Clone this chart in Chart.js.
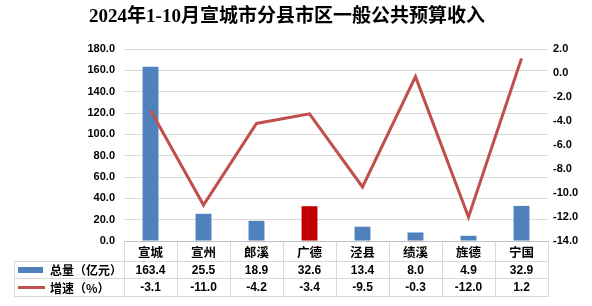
<!DOCTYPE html>
<html><head><meta charset="utf-8">
<script src="https://cdn.jsdelivr.net/npm/chart.js@4"></script>
<style>html,body{margin:0;padding:0;background:#fff}#wrap{width:592px;height:306px}</style>
</head><body><div id="wrap"><canvas id="c" width="592" height="306"></canvas></div>
<script>
const titleText = '2024年1-10月宣城市分县市区一般公共预算收入';
const categories = ['宣城','宣州','郎溪','广德','泾县','绩溪','旌德','宁国'];
const totalValues = [163.4, 25.5, 18.9, 32.6, 13.4, 8.0, 4.9, 32.9];
const growthValues = [-3.1, -11.0, -4.2, -3.4, -9.5, -0.3, -12.0, 1.2];
const seriesNames = ['总量（亿元）', '增速（%）'];
const highlightCategory = '广德';

const BLUE = '#4F81BD', RED_BAR = '#C00000', LINE = '#C0504D', GRID = '#D9D9D9';
const CJK = '"Noto Sans CJK SC", "Liberation Sans", sans-serif';
const NUM = '"Liberation Sans", Arial, sans-serif';

const tablePlugin = {
  id: 'tableAndTitle',
  beforeDraw(chart) {
    const ctx = chart.ctx;
    ctx.save();
    ctx.fillStyle = '#fff';
    ctx.fillRect(0, 0, chart.width, chart.height);
    ctx.restore();
  },
  afterDraw(chart) {
    const ctx = chart.ctx, xs = chart.scales.x, a = chart.chartArea;
    const n = categories.length, w = (a.right - a.left) / n;
    const top = Math.round(a.bottom), r1 = top + 20, r2 = r1 + 17, r3 = r2 + 18;
    const tl = 14;
    ctx.save();
    // title
    ctx.fillStyle = '#000';
    ctx.textAlign = 'center'; ctx.textBaseline = 'middle';
    ctx.font = 'bold 19px "Liberation Serif", "Noto Sans CJK SC", serif';
    ctx.fillText(titleText, 287, 17);
    // grid lines of the table
    ctx.strokeStyle = GRID; ctx.lineWidth = 1;
    ctx.beginPath();
    [r1, r2, r3].forEach(y => { ctx.moveTo(tl, y + 0.5); ctx.lineTo(a.right, y + 0.5); });
    ctx.moveTo(tl + 0.5, r1); ctx.lineTo(tl + 0.5, r3 + 1);
    for (let i = 0; i <= n; i++) {
      const x = Math.round(a.left + i * w) + 0.5;
      ctx.moveTo(x, top); ctx.lineTo(x, r3 + 1);
    }
    ctx.stroke();
    // header names
    ctx.fillStyle = '#000';
    ctx.font = 'bold 12.5px ' + CJK;
    categories.forEach((c, i) => ctx.fillText(c, xs.getPixelForValue(i), (top + r1) / 2 + 1));
    ctx.font = 'bold 12px ' + NUM;
    totalValues.forEach((v, i) => ctx.fillText(v.toFixed(1), xs.getPixelForValue(i), (r1 + r2) / 2 + 1));
    growthValues.forEach((v, i) => ctx.fillText(v.toFixed(1), xs.getPixelForValue(i), (r2 + r3) / 2 + 1));
    // legend keys
    ctx.fillStyle = BLUE;
    ctx.fillRect(18, 267, 25, 6);
    ctx.strokeStyle = LINE; ctx.lineWidth = 3;
    ctx.beginPath(); ctx.moveTo(18, 287.5); ctx.lineTo(45, 287.5); ctx.stroke();
    ctx.fillStyle = '#000';
    ctx.textAlign = 'left';
    ctx.font = 'bold 12px ' + CJK;
    ctx.fillText(seriesNames[0], 50, (r1 + r2) / 2 + 1);
    ctx.fillText(seriesNames[1], 50, (r2 + r3) / 2 + 1);
    ctx.restore();
  }
};

new Chart(document.getElementById('c'), {
  data: {
    labels: categories,
    datasets: [
      {
        type: 'line', label: seriesNames[1], data: growthValues, yAxisID: 'y1',
        borderColor: LINE, borderWidth: 3, pointRadius: 0, tension: 0, order: 0
      },
      {
        type: 'bar', label: seriesNames[0], data: totalValues, yAxisID: 'y',
        backgroundColor: categories.map(c => c === highlightCategory ? RED_BAR : BLUE),
        barPercentage: 0.3, categoryPercentage: 1, order: 1
      }
    ]
  },
  options: {
    responsive: false, devicePixelRatio: 1, animation: false,
    layout: { padding: { top: 49, left: 0, right: 0, bottom: 0 } },
    plugins: { legend: { display: false }, tooltip: { enabled: false }, title: { display: false } },
    scales: {
      x: {
        ticks: { display: false },
        grid: { display: false, drawTicks: false },
        border: { display: true, color: '#BFBFBF' },
        afterFit(s) { s.height = 65; }
      },
      y: {
        position: 'left', min: 0, max: 180,
        ticks: { stepSize: 20, padding: 9, color: '#000', font: { family: NUM, size: 11, weight: 'bold' },
                 callback: v => Number(v).toFixed(1) },
        grid: { color: GRID, drawTicks: false },
        border: { display: false },
        afterFit(s) { s.width = 124; }
      },
      y1: {
        position: 'right', min: -14, max: 2,
        ticks: { stepSize: 2, padding: 5, color: '#000', font: { family: NUM, size: 11, weight: 'bold' },
                 callback: v => Number(v).toFixed(1) },
        grid: { display: false, drawTicks: false },
        border: { display: false },
        afterFit(s) { s.width = 44; }
      }
    }
  },
  plugins: [tablePlugin]
});
</script>
</body></html>
